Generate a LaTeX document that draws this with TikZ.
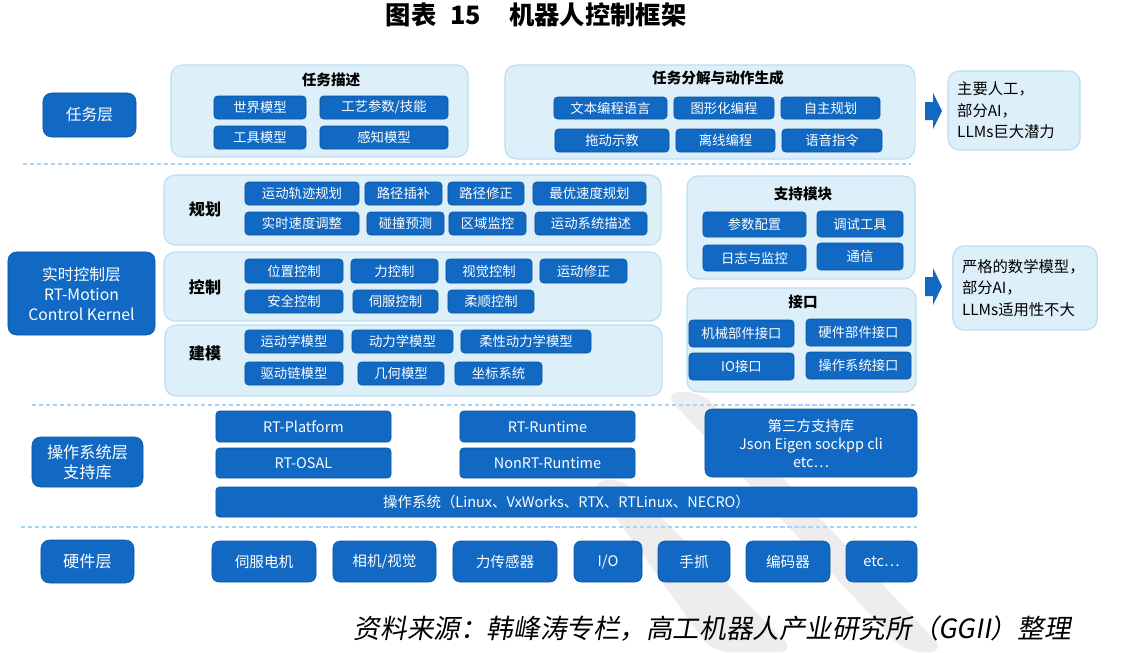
\documentclass[tikz,border=0pt]{standalone}
\usepackage{fontspec}
\setmainfont{Noto Sans CJK SC}
\newfontfamily\srcfont[FakeSlant=0.18]{Noto Sans CJK SC}
\usepackage{xcolor}
\usepackage{tikz}
\usetikzlibrary{positioning}

\definecolor{boxblue}{HTML}{1169C3}
\definecolor{boxedge}{HTML}{0B559F}
\definecolor{panelfill}{HTML}{DDEFF9}
\definecolor{paneledge}{HTML}{BCDDF3}
\definecolor{dashblue}{HTML}{A9D3F0}
\definecolor{wmgray}{HTML}{EDEDED}

\begin{document}
\begin{tikzpicture}[
    x=0.025cm,y=-0.025cm,
    item/.style={
        draw=boxedge, fill=boxblue, text=white,
        rounded corners=2.5pt,
        minimum height=0.575cm,
        inner sep=0pt,
        font=\fontsize{9.5}{11}\selectfont
    },
    layer/.style={
        draw=boxedge, fill=boxblue, text=white,
        rounded corners=6pt,
        align=center,
        inner sep=0pt,
        font=\fontsize{11.2}{14.2}\selectfont
    },
    panel/.style={
        draw=paneledge, fill=panelfill, line width=0.8pt,
        rounded corners=8pt,
        inner sep=0pt
    },
    note/.style={
        panel, align=left,
        inner xsep=0.23cm,
        font=\fontsize{10.9}{15.3}\selectfont
    },
    paneltitle/.style={font=\bfseries\fontsize{10.4}{12}\selectfont},
    rowlabel/.style={font=\bfseries\fontsize{11.4}{13}\selectfont},
    sep/.style={dashblue, line width=0.8pt, dash pattern=on 3pt off 2pt},
    bigarrow/.style={fill=boxblue}
]
\useasboundingbox (0,0) rectangle (1122,652);

% --- Watermark bands ---
\fill[wmgray, rounded corners=12pt] (663,392) -- (702,392) -- (946,652) -- (905,652) -- cycle;
\fill[wmgray, rounded corners=12pt] (590,481) -- (622,478) -- (796,652) -- (712,652) -- cycle;

% --- Title ---
\node[font=\bfseries\fontsize{18}{20}\selectfont, anchor=west] (title) at (381,15)
{图表\hspace{0.55em}15\hspace{1.1em}机器人控制框架};

% --- Task layer ---
\node[layer, minimum width=2.325cm, minimum height=1.1cm] (layTask) at (89.5,115) {任务层};

\node[panel, minimum width=7.425cm, minimum height=2.3cm] (contDesc) at (319.5,111) {};
\node[paneltitle] (titDesc) at (331,80) {任务描述};
\node[item, minimum width=2.3cm] (descWorld) at (260,107.5) {世界模型};
\node[item, minimum width=3.2cm] (descCraft) at (384,107.5) {工艺参数/技能};
\node[item, minimum width=2.3cm] (descTool) at (260,137.5) {工具模型};
\node[item, minimum width=3.2cm] (descSense) at (384,137.5) {感知模型};

\node[panel, minimum width=10.25cm, minimum height=2.35cm] (contGen) at (710,112) {};
\node[paneltitle] (titGen) at (718,78) {任务分解与动作生成};
\node[item, minimum width=2.825cm, minimum height=0.55cm] (genText) at (610.5,108) {文本编程语言};
\node[item, minimum width=2.5cm, minimum height=0.55cm] (genGraph) at (724,108) {图形化编程};
\node[item, minimum width=2.475cm, minimum height=0.55cm] (genAuto) at (830.5,108) {自主规划};
\node[item, minimum width=2.85cm] (genDrag) at (612,140.5) {拖动示教};
\node[item, minimum width=2.475cm] (genOff) at (725.5,140.5) {离线编程};
\node[item, minimum width=2.5cm] (genVoice) at (832,140.5) {语音指令};

\fill[bigarrow] (925,102) -- (933,102) -- (933,93) -- (942,111) -- (933,129) -- (933,120) -- (925,120) -- cycle;
\node[note, minimum width=3.3cm, minimum height=1.975cm, text width=2.84cm] (noteTask) at (1014,110.5)
{主要人工，\\部分AI，\\LLMs巨大潜力};

\draw[sep] (23,164) -- (911,164);

% --- Real-time control layer ---
\node[layer, minimum width=3.675cm, minimum height=2.075cm] (layRT) at (81.5,293.5)
{实时控制层\\RT-Motion\\Control Kernel};

\node[panel, minimum width=12.425cm, minimum height=1.75cm] (contPlan) at (412.5,210) {};
\node[rowlabel] (labPlan) at (205,209) {规划};
\node[item, minimum width=2.85cm] (planTraj) at (302,193.5) {运动轨迹规划};
\node[item, minimum width=1.925cm] (planInterp) at (403.5,193.5) {路径插补};
\node[item, minimum width=1.9cm] (planFix) at (486,193.5) {路径修正};
\node[item, minimum width=2.825cm] (planSpeed) at (589.5,193.5) {最优速度规划};
\node[item, minimum width=2.85cm] (planAdj) at (302,223.5) {实时速度调整};
\node[item, minimum width=1.925cm] (planColl) at (405.5,223.5) {碰撞预测};
\node[item, minimum width=1.925cm] (planZone) at (487.5,223.5) {区域监控};
\node[item, minimum width=2.8cm] (planSys) at (591,223.5) {运动系统描述};

\node[panel, minimum width=12.425cm, minimum height=1.725cm] (contCtrl) at (412.5,286.5) {};
\node[rowlabel] (labCtrl) at (205,287) {控制};
\node[item, minimum width=2.45cm, minimum height=0.6cm] (ctrlPos) at (294,271) {位置控制};
\node[item, minimum width=2.175cm, minimum height=0.6cm] (ctrlForce) at (394.5,271) {力控制};
\node[item, minimum width=2.15cm, minimum height=0.6cm] (ctrlVis) at (489,271) {视觉控制};
\node[item, minimum width=2.175cm, minimum height=0.6cm] (ctrlFix) at (583.5,271) {运动修正};
\node[item, minimum width=2.45cm] (ctrlSafe) at (294,301.5) {安全控制};
\node[item, minimum width=2.125cm] (ctrlServo) at (395.5,301.5) {伺服控制};
\node[item, minimum width=2.15cm] (ctrlComp) at (491,301.5) {柔顺控制};

\node[panel, minimum width=12.425cm, minimum height=1.775cm] (contModel) at (413.5,360.5) {};
\node[rowlabel] (labModel) at (205,353) {建模};
\node[item, minimum width=2.45cm] (modKin) at (294,341.5) {运动学模型};
\node[item, minimum width=2.525cm] (modDyn) at (402.5,341.5) {动力学模型};
\node[item, minimum width=3.25cm] (modFlex) at (526,341.5) {柔性动力学模型};
\node[item, minimum width=2.45cm] (modDrive) at (294,373.5) {驱动链模型};
\node[item, minimum width=2.15cm] (modGeo) at (401,373.5) {几何模型};
\node[item, minimum width=2.175cm] (modFrame) at (498.5,373.5) {坐标系统};

\node[panel, minimum width=5.7cm, minimum height=2.575cm] (contSup) at (801,227.5) {};
\node[paneltitle] (titSup) at (803,194) {支持模块};
\node[item, minimum width=2.575cm, minimum height=0.63cm] (supConf) at (754.5,224.5) {参数配置};
\node[item, minimum width=2.15cm, minimum height=0.65cm] (supDebug) at (860,224) {调试工具};
\node[item, minimum width=2.575cm, minimum height=0.65cm] (supLog) at (754.5,258) {日志与监控};
\node[item, minimum width=2.15cm, minimum height=0.675cm] (supComm) at (860,256.5) {通信};

\node[panel, minimum width=5.725cm, minimum height=2.6cm] (contIf) at (801.5,340) {};
\node[paneltitle] (titIf) at (803,302) {接口};
\node[item, minimum width=2.625cm, minimum height=0.675cm] (ifMech) at (741.5,333.5) {机械部件接口};
\node[item, minimum width=2.625cm, minimum height=0.675cm] (ifHw) at (858.5,332.5) {硬件部件接口};
\node[item, minimum width=2.625cm, minimum height=0.675cm] (ifIO) at (741.5,366.5) {IO接口};
\node[item, minimum width=2.625cm, minimum height=0.675cm] (ifOS) at (858.5,365.5) {操作系统接口};

\fill[bigarrow] (925,277) -- (933,277) -- (933,268) -- (942,286.5) -- (933,305) -- (933,296) -- (925,296) -- cycle;
\node[note, minimum width=3.6cm, minimum height=2.1cm, text width=3.15cm] (noteRT) at (1025,288)
{严格的数学模型，\\部分AI，\\LLMs适用性不大};

\draw[sep] (32,405) -- (916,405);

% --- OS layer and support libraries ---
\node[layer, minimum width=2.775cm, minimum height=1.25cm, font=\fontsize{11.5}{14.2}\selectfont] (layOS) at (87.5,462)
{操作系统层\\支持库};

\node[item, minimum width=4.375cm, minimum height=0.775cm, font=\fontsize{10.3}{12}\selectfont] (osPlat) at (303.5,426.5) {RT-Platform};
\node[item, minimum width=4.375cm, minimum height=0.75cm, font=\fontsize{10.3}{12}\selectfont] (osOsal) at (303.5,463) {RT-OSAL};
\node[item, minimum width=4.375cm, minimum height=0.775cm, font=\fontsize{10.3}{12}\selectfont] (osRun) at (547.5,426.5) {RT-Runtime};
\node[item, minimum width=4.375cm, minimum height=0.75cm, font=\fontsize{10.3}{12}\selectfont] (osNonRun) at (547.5,463) {NonRT-Runtime};
\node[item, minimum width=5.3cm, minimum height=1.7cm, rounded corners=5pt, align=center,
      font=\fontsize{10.3}{12.8}\selectfont] (osLib) at (811,443)
{第三方支持库\\Json Eigen sockpp cli\\etc…};
\node[item, minimum width=17.525cm, minimum height=0.75cm, font=\fontsize{10.3}{12}\selectfont] (osBar) at (566.5,502)
{操作系统（Linux、VxWorks、RTX、RTLinux、NECRO）};

\draw[sep] (21,527) -- (917,527);

% --- Hardware layer ---
\node[layer, minimum width=2.325cm, minimum height=1.075cm, font=\fontsize{11.5}{14}\selectfont] (layHW) at (87.5,561.5) {硬件层};

\foreach \cx/\w/\name/\txt in {264/2.6/hwServo/{伺服电机}, 384.5/2.575/hwCam/{相机/视觉},
    505/2.6/hwForce/{力传感器}, 608/1.7/hwIO/{I/O}, 694/1.8/hwGrip/{手抓},
    788/2.1/hwEnc/{编码器}, 881.5/1.775/hwEtc/{etc…}}
    \node[item, rounded corners=5pt, minimum width=\w cm, minimum height=1.025cm,
          font=\fontsize{10.4}{12}\selectfont] (\name) at (\cx,561.5) {\txt};

% --- Source ---
\node[font=\srcfont\fontsize{18.9}{20}\selectfont, anchor=west] (source) at (349,629)
{资料来源：韩峰涛专栏，高工机器人产业研究所（GGII）整理};

\end{tikzpicture}
\end{document}
